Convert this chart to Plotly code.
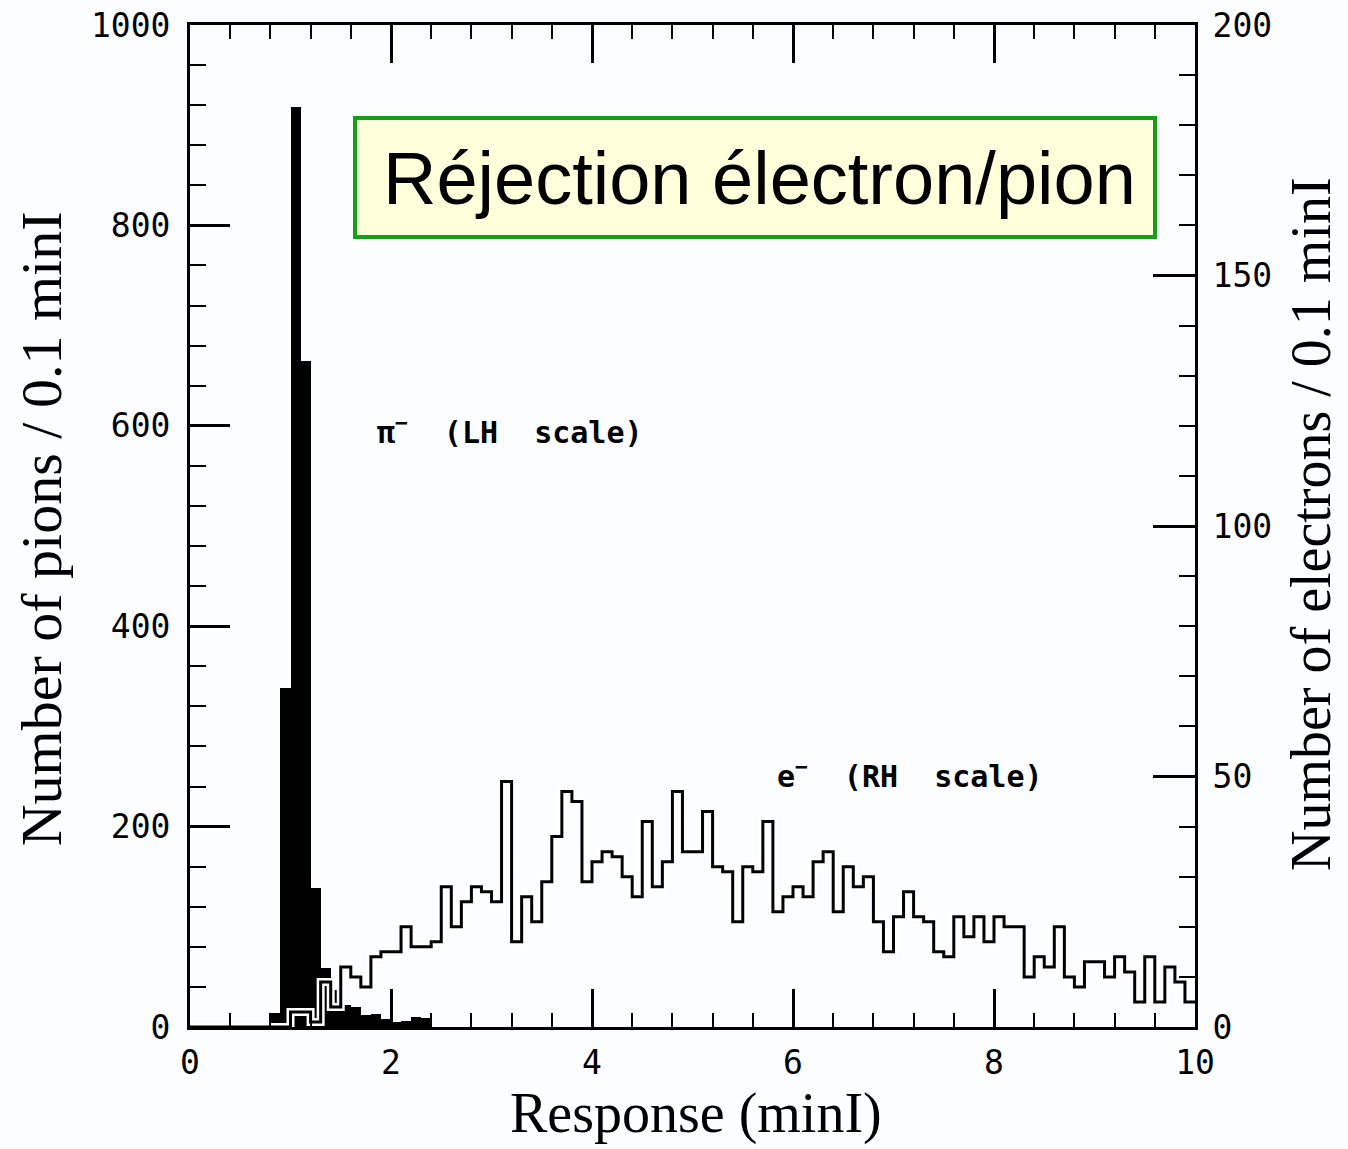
import numpy as np
import plotly.graph_objects as go

# ---- data -------------------------------------------------------------
bin_width = 0.1
bin_edges = np.round(np.arange(0, 10.0 + 1e-9, bin_width), 1)  # 0.0 ... 10.0

# pion counts (left scale), bins starting at x = 0.0, 0.1, ...
pion_counts = [0, 0, 0, 0, 0, 0, 0, 0, 14, 338,
               918, 665, 139, 59, 37, 22, 20, 12, 13, 8,
               5, 6, 10, 9, 0]

# electron counts (right scale), 100 bins of 0.1 from 0 to 10
electron_counts = [0, 0, 0, 0, 0, 0, 0, 0, 0, 0,
                   3, 3, 1, 9, 4, 12, 10, 8, 14, 15,
                   15, 20, 16, 16, 17, 28, 20, 25, 28, 27,
                   25, 49, 17, 26, 21, 29, 38, 47, 45, 29,
                   33, 35, 34, 30, 26, 41, 28, 33, 47, 35,
                   35, 43, 32, 31, 21, 32, 31, 41, 23, 26,
                   28, 26, 33, 35, 23, 32, 28, 30, 21, 15,
                   22, 27, 22, 21, 15, 14, 22, 18, 22, 17,
                   22, 20, 20, 10, 14, 12, 20, 10, 8, 13,
                   13, 10, 14, 11, 5, 14, 5, 12, 9, 5]

x_ticks = [0, 2, 4, 6, 8, 10]
left_ticks = [0, 200, 400, 600, 800, 1000]
right_ticks = [0, 50, 100, 150, 200]

title_text = "Réjection électron/pion"
pion_label = "π<sup>−</sup>  (LH  scale)"
electron_label = "e<sup>−</sup>  (RH  scale)"

# ---- figure -----------------------------------------------------------
pion_centers = bin_edges[:len(pion_counts)] + bin_width / 2
e_x = list(bin_edges)                     # 101 edges
e_y = list(electron_counts) + [electron_counts[-1]]

fig = go.Figure()
fig.add_trace(go.Bar(x=pion_centers, y=pion_counts, width=bin_width,
                     marker=dict(color="black", line=dict(width=0)),
                     yaxis="y", showlegend=False))
# white halo under the electron outline
fig.add_trace(go.Scatter(x=e_x, y=e_y, mode="lines", line_shape="hv",
                         line=dict(color="white", width=8),
                         yaxis="y2", showlegend=False, hoverinfo="skip"))
fig.add_trace(go.Scatter(x=e_x, y=e_y, mode="lines", line_shape="hv",
                         line=dict(color="black", width=3),
                         yaxis="y2", showlegend=False))

tick_font = dict(family="DejaVu Sans Mono, monospace", size=33, color="black")
title_font = dict(family="Liberation Serif, Times New Roman, serif", size=58, color="black")
side_title_font = dict(family="Liberation Serif, Times New Roman, serif", size=56, color="black")

fig.update_layout(
    width=1348, height=1149,
    margin=dict(l=190, r=153, t=25, b=122, autoexpand=False),
    paper_bgcolor="#fcfdff", plot_bgcolor="#fcfdff",
    bargap=0,
    xaxis=dict(range=[0, 10], tickvals=x_ticks, ticks="inside", ticklen=38,
               tickwidth=2.5, tickcolor="black", showline=True, linewidth=3,
               linecolor="black", mirror="ticks", showgrid=False, zeroline=False,
               automargin=False,
               minor=dict(dtick=0.4, tick0=0, ticks="inside", ticklen=14,
                          tickwidth=2, tickcolor="black", showgrid=False),
               tickfont=tick_font, ticklabelstandoff=4),
    yaxis=dict(range=[0, 1000], tickvals=left_ticks, ticks="inside", ticklen=40,
               tickwidth=2.5, tickcolor="black", showline=True, linewidth=3,
               linecolor="black", showgrid=False, zeroline=False, automargin=False,
               minor=dict(dtick=40, tick0=0, ticks="inside", ticklen=16,
                          tickwidth=2, tickcolor="black", showgrid=False),
               tickfont=tick_font, ticklabelstandoff=10),
    yaxis2=dict(range=[0, 200], tickvals=right_ticks, overlaying="y", side="right",
                ticks="inside", ticklen=42, tickwidth=2.5, tickcolor="black",
                showline=True, linewidth=3, linecolor="black", showgrid=False,
                zeroline=False, automargin=False,
                minor=dict(dtick=10, tick0=0, ticks="inside", ticklen=16,
                           tickwidth=2, tickcolor="black", showgrid=False),
                tickfont=tick_font, ticklabelstandoff=8),
)

# axis titles
fig.add_annotation(text="Number of pions / 0.1 minI", xref="paper", yref="paper",
                   x=-0.148, y=0.497, textangle=-90, showarrow=False,
                   font=title_font, xanchor="center", yanchor="middle")
fig.add_annotation(text="Number of electrons / 0.1 minI", xref="paper", yref="paper",
                   x=(1311 - 190) / 1005, y=0.502, textangle=-90, showarrow=False,
                   font=side_title_font, xanchor="center", yanchor="middle")
fig.add_annotation(text="Response (minI)", xref="paper", yref="paper",
                   x=0.503, y=(1027 - 1113) / 1002, showarrow=False, font=side_title_font,
                   xanchor="center", yanchor="middle")

# in-plot labels
label_font = dict(family="DejaVu Sans Mono, monospace", size=30, color="black")
fig.add_annotation(text="<b>" + pion_label + "</b>", x=1.84, y=595, xref="x", yref="y",
                   showarrow=False, xanchor="left", yanchor="middle", font=label_font)
fig.add_annotation(text="<b>" + electron_label + "</b>", x=5.82, y=252, xref="x", yref="y",
                   showarrow=False, xanchor="left", yanchor="middle", font=label_font)

# title box
fig.add_shape(type="rect", xref="paper", yref="paper",
              x0=(355 - 190) / 1005, x1=(1155 - 190) / 1005,
              y0=(1027 - 237) / 1002, y1=(1027 - 118) / 1002,
              fillcolor="#ffffdc", line=dict(color="#14a014", width=4), layer="above")
fig.add_annotation(text=title_text, xref="paper", yref="paper",
                   x=(759 - 190) / 1005, y=(1027 - 178) / 1002, showarrow=False,
                   xanchor="center", yanchor="middle",
                   font=dict(family="Liberation Sans, Arial, sans-serif", size=74, color="black"))

fig.write_html("out.html")
